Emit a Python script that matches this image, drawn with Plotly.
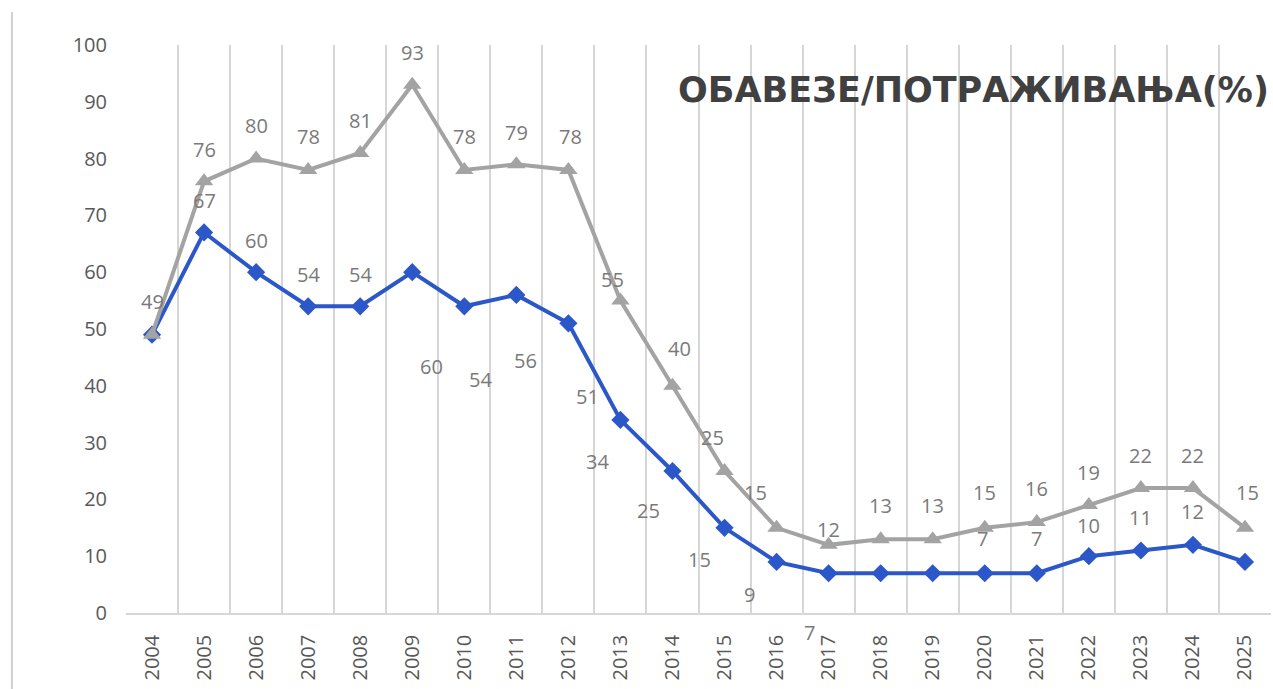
import plotly.graph_objects as go

years = ["2004", "2005", "2006", "2007", "2008", "2009", "2010", "2011", "2012", "2013", "2014",
         "2015", "2016", "2017", "2018", "2019", "2020", "2021", "2022", "2023", "2024", "2025"]
gray_values = [49, 76, 80, 78, 81, 93, 78, 79, 78, 55, 40, 25, 15, 12, 13, 13, 15, 16, 19, 22, 22, 15]
blue_values = [49, 67, 60, 54, 54, 60, 54, 56, 51, 34, 25, 15, 9, 7, 7, 7, 7, 7, 10, 11, 12, 9]
title_text = "ОБАВЕЗЕ/ПОТРАЖИВАЊА(%)"
y_ticks = [0, 10, 20, 30, 40, 50, 60, 70, 80, 90, 100]

# label offsets in pixels (style), None = label hidden behind other marker
gray_label_offsets = [(0, -33), (0, -32), (0, -33), (0, -33), (0, -32), (0, -32), (0, -33), (0, -32),
                      (2, -33), (-8, -21), (7, -37), (-12, -34), (-21, -35), (0, -15), (0, -34),
                      (0, -34), (0, -35), (0, -34), (0, -33), (0, -33), (0, -33), (3, -35)]
blue_label_offsets = [None, (0, -32), (0, -32), (0, -32), (0, -32), (19, 94), (16, 73), (9, 66),
                      (19, 73), (-23, 42), (-24, 39), (-25, 32), (-27, 33), (-19, 59), None, None,
                      (-2, -35), (0, -35), (0, -31), (0, -33), (0, -33), None]

GRAY = "#A3A3A3"
BLUE = "#2B57C9"
LABEL = "#7A7A7A"
FONT = "Open Sans"

fig = go.Figure()
fig.add_trace(go.Scatter(
    x=years, y=blue_values, mode="lines+markers",
    line=dict(color=BLUE, width=4),
    marker=dict(symbol="diamond", size=14, color=BLUE),
    showlegend=False, cliponaxis=False,
))
fig.add_trace(go.Scatter(
    x=years, y=gray_values, mode="lines+markers",
    line=dict(color=GRAY, width=4),
    marker=dict(symbol="triangle-up", size=16, color=GRAY),
    showlegend=False, cliponaxis=False,
))

annotations = []
for series, offsets in ((gray_values, gray_label_offsets), (blue_values, blue_label_offsets)):
    for i, (v, off) in enumerate(zip(series, offsets)):
        if off is None:
            continue
        annotations.append(dict(x=i, y=v, xref="x", yref="y", text=str(v), showarrow=False,
                                xanchor="center", yanchor="middle",
                                xshift=off[0], yshift=-off[1],
                                font=dict(family=FONT, size=20, color=LABEL)))

annotations.append(dict(
    x=1.0, y=0.921, xref="paper", yref="paper", xanchor="right", yanchor="middle",
    text=title_text, showarrow=False,
    font=dict(family="DejaVu Sans", size=35, color="#404040", weight="bold"),
))

fig.update_layout(
    width=1273, height=689,
    margin=dict(l=126, r=2, t=45, b=76, autoexpand=False),
    paper_bgcolor="white", plot_bgcolor="white",
    annotations=annotations,
    shapes=[dict(type="line", xref="paper", yref="paper",
                 x0=-0.0996, x1=-0.0996, y0=1.058, y1=-0.14,
                 line=dict(color="#D0D0D0", width=2))],
    xaxis=dict(
        type="category", tickson="boundaries", showgrid=True,
        gridcolor="#D6D6D6", gridwidth=1.5,
        showline=True, linecolor="#D6D6D6", linewidth=1.5,
        ticks="", tickangle=-90, ticklabelstandoff=12,
        tickfont=dict(family=FONT, size=20, color="#595959"),
        range=[-0.5, len(years) - 0.5], automargin=False, fixedrange=True,
    ),
    yaxis=dict(
        range=[0, 100], tickvals=y_ticks, showgrid=False, zeroline=False,
        showline=False, ticks="", ticklabelstandoff=18,
        tickfont=dict(family=FONT, size=20, color="#595959"),
        automargin=False, fixedrange=True,
    ),
)

fig.write_html("out.html", config={"displayModeBar": False},
               post_script="document.body.style.margin='0';document.body.style.padding='0';")
